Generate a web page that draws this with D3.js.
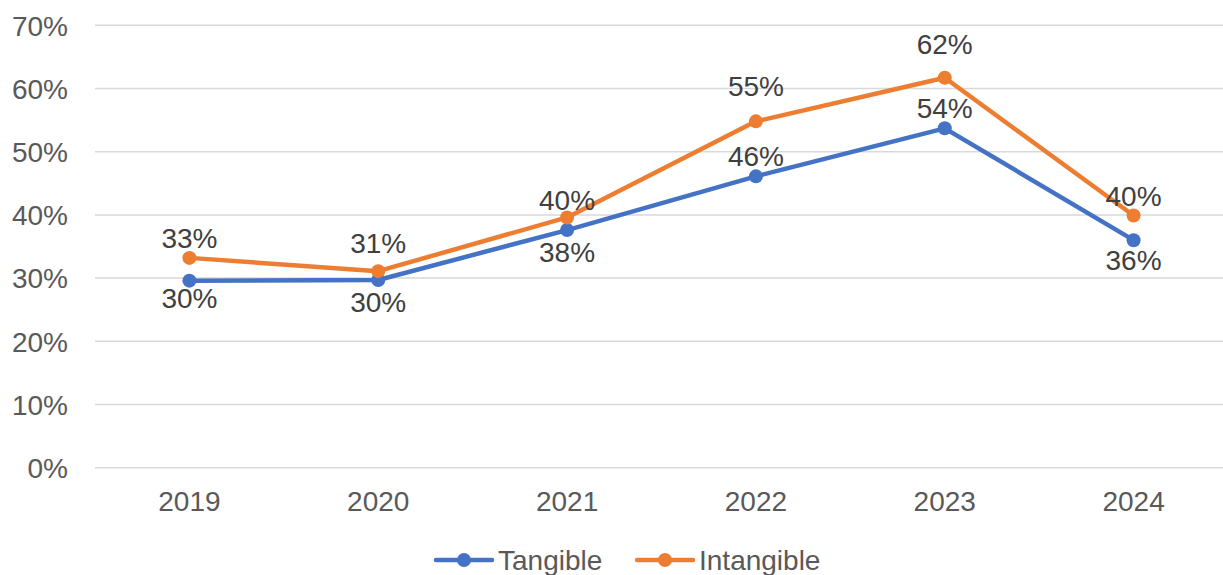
<!DOCTYPE html>
<html>
<head>
<meta charset="utf-8">
<script src="https://cdnjs.cloudflare.com/ajax/libs/d3/7.8.5/d3.min.js"></script>
<style>
  body { margin: 0; background: #fff; }
  text { font-family: "Liberation Sans", Arial, sans-serif; }
</style>
</head>
<body>
<div id="chart"></div>
<script>
// data
var years = ["2019", "2020", "2021", "2022", "2023", "2024"];
var tangible = [0.296, 0.297, 0.376, 0.461, 0.537, 0.360];
var intangible = [0.332, 0.311, 0.396, 0.548, 0.617, 0.399];
var yTicks = [0, 0.1, 0.2, 0.3, 0.4, 0.5, 0.6, 0.7];

// label placement (baseline offset from the marker, px)
var tangibleLabelDy = [27, 32, 32, -10, -10, 30];
var intangibleLabelDy = [-10, -18, -7, -25, -24, -10];

var series = [
  {name: "Tangible", values: tangible, dy: tangibleLabelDy, color: "#4472C4"},
  {name: "Intangible", values: intangible, dy: intangibleLabelDy, color: "#ED7D31"}
];

var width = 1223, height = 575;

var svg = d3.select("#chart")
  .append("svg")
    .attr("width", width)
    .attr("height", height);

var x = d3.scaleBand()
    .domain(years)
    .range([95, 1228])
    .padding(0);

var y = d3.scaleLinear()
    .domain([0, 0.7])
    .range([467.7, 25.3]);

var fmt = d3.format(".0%");

// gridlines
svg.append("g")
  .attr("class", "grid")
  .selectAll("line")
  .data(yTicks)
  .enter().append("line")
    .attr("x1", 95)
    .attr("x2", 1228)
    .attr("y1", function(d) { return y(d); })
    .attr("y2", function(d) { return y(d); })
    .style("stroke", "#d9d9d9")
    .style("stroke-width", 1.5);

// y axis labels
var yAxis = d3.axisLeft(y)
    .tickValues(yTicks)
    .tickFormat(fmt)
    .tickSize(0)
    .tickPadding(0);

var yg = svg.append("g")
    .attr("transform", "translate(68,0)")
    .call(yAxis);
yg.select(".domain").remove();
yg.selectAll("text")
    .attr("dy", "0.35em")
    .style("font-size", "28px")
    .style("fill", "#595959");

// x axis labels
var xAxis = d3.axisBottom(x)
    .tickSize(0)
    .tickPadding(0);

var xg = svg.append("g")
    .attr("transform", "translate(0,511)")
    .call(xAxis);
xg.select(".domain").remove();
xg.selectAll("text")
    .attr("dy", 0)
    .attr("y", 0)
    .style("font-size", "28px")
    .style("fill", "#595959");

var line = d3.line()
    .x(function(d, i) { return x(years[i]) + x.bandwidth() / 2; })
    .y(function(d) { return y(d); });

series.forEach(function(s) {
  var g = svg.append("g").attr("class", "series");

  g.append("path")
    .datum(s.values)
    .attr("d", line)
    .style("fill", "none")
    .style("stroke", s.color)
    .style("stroke-width", 4.5)
    .style("stroke-linejoin", "round");

  g.selectAll("circle")
    .data(s.values)
    .enter().append("circle")
      .attr("cx", function(d, i) { return x(years[i]) + x.bandwidth() / 2; })
      .attr("cy", function(d) { return y(d); })
      .attr("r", 7)
      .style("fill", s.color);
});

// data labels drawn last so they sit on top
series.forEach(function(s) {
  svg.append("g")
    .selectAll("text")
    .data(s.values)
    .enter().append("text")
      .attr("x", function(d, i) { return x(years[i]) + x.bandwidth() / 2; })
      .attr("y", function(d, i) { return y(d) + s.dy[i]; })
      .attr("text-anchor", "middle")
      .style("font-size", "28px")
      .style("fill", "#404040")
      .text(function(d) { return fmt(d); });
});

// legend
var legendX = [436, 637];
var legend = svg.append("g")
  .selectAll("g")
  .data(series)
  .enter().append("g")
    .attr("transform", function(d, i) { return "translate(" + legendX[i] + ",560)"; });

legend.append("line")
    .attr("x1", 0).attr("x2", 56)
    .attr("y1", 0).attr("y2", 0)
    .style("stroke", function(d) { return d.color; })
    .style("stroke-width", 4.5)
    .style("stroke-linecap", "round");

legend.append("circle")
    .attr("cx", 28).attr("cy", 0).attr("r", 7)
    .style("fill", function(d) { return d.color; });

legend.append("text")
    .attr("x", 62)
    .attr("y", 10)
    .style("font-size", "28px")
    .style("fill", "#595959")
    .text(function(d) { return d.name; });
</script>
</body>
</html>
